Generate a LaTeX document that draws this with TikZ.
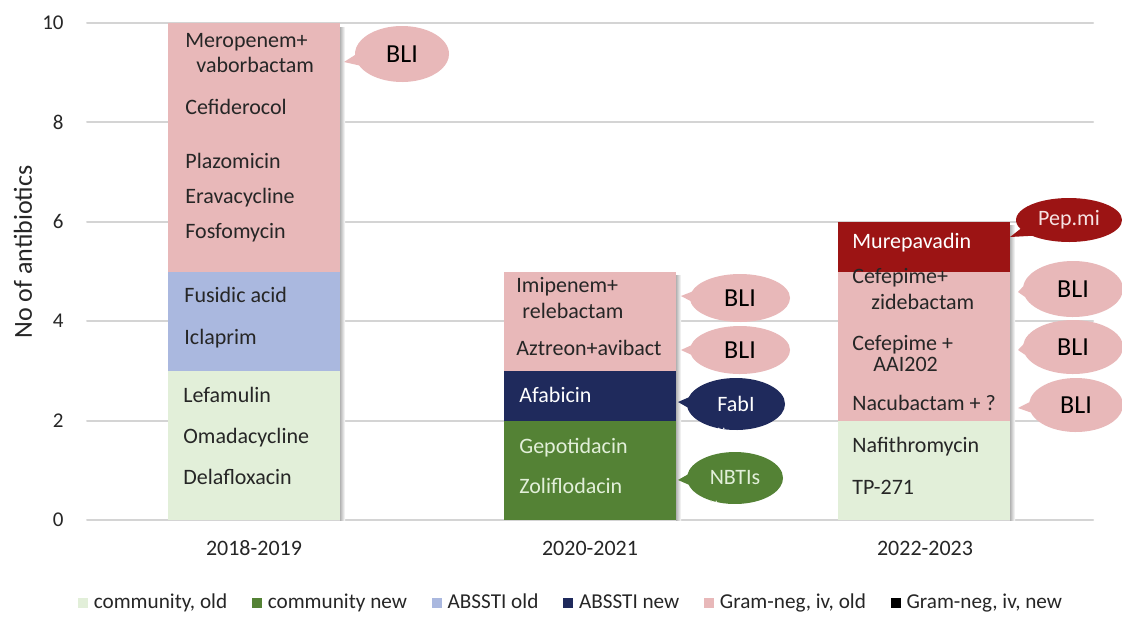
\documentclass[tikz,border=0pt]{standalone}
\usepackage{fontspec}
\setmainfont{Carlito}
\usepackage{tikz}
\usetikzlibrary{positioning,shapes.callouts}
\definecolor{comold}{HTML}{E2EFD9}
\definecolor{comnew}{HTML}{548235}
\definecolor{absold}{HTML}{AAB8DF}
\definecolor{absnew}{HTML}{1F2A5C}
\definecolor{gnold}{HTML}{E8B8B9}
\definecolor{gnnew}{HTML}{9C1414}
\definecolor{gridgray}{HTML}{D4D4D4}
\definecolor{drugtext}{HTML}{262626}
\newcommand{\calldots}{\rlap{\raisebox{-9pt}[0pt][0pt]{\fontsize{6}{6}\selectfont .\,.}}}
\tikzset{
every picture/.style={line cap=round,line join=round},
bar seg/.style={inner sep=0pt, outer sep=0pt, minimum width=86pt},
units/.style={minimum height=#1*24.85pt},
drug/.style={anchor=west, inner sep=0pt, text height=8pt, text depth=2.5pt,
  font=\fontsize{11}{13}\selectfont, text=drugtext},
tick label/.style={anchor=east, inner sep=0pt, font=\fontsize{10.5}{12}\selectfont, text=drugtext},
cat label/.style={inner sep=0pt, font=\fontsize{11}{13}\selectfont, text=drugtext},
grid line/.style={draw=gridgray, line width=1pt},
bar shadow/.style={left color=black!30, right color=white},
call/.style={ellipse callout, inner sep=0pt, outer sep=0pt, callout pointer arc=22,
  font=\fontsize{11}{13}\selectfont},
bli call/.style={call, fill=gnold, text=black, minimum width=50pt, minimum height=26pt,
  font=\fontsize{13}{15}\selectfont},
leg sq/.style={inner sep=0pt, minimum size=5pt},
leg text/.style={inner sep=0pt, text height=7.5pt, text depth=2pt,
  font=\fontsize{10.6}{12}\selectfont, text=drugtext}
}
\begin{document}
\begin{tikzpicture}[x=0.5pt,y=-0.5pt]
\useasboundingbox (0,0) rectangle (1122,616);
\fill[white] (0,0) rectangle (1122,616);
% grid and axis labels
\foreach \v in {0,2,...,10}{
  \draw[grid line] (87,{520-49.7*\v}) -- (1093,{520-49.7*\v});
  \node[tick label] (tick\v) at (64,{520-49.7*\v}) {\v};
}
\node[rotate=90, inner sep=0pt, font=\fontsize{13}{15}\selectfont, text=drugtext] (ytitle) at (23,252) {No of antibiotics};
% bars
\node[bar seg, units=3, fill=comold, anchor=south west] (b1com) at (168,520) {};
\node[bar seg, units=2, fill=absold, above=0pt of b1com] (b1abs) {};
\node[bar seg, units=5, fill=gnold, above=0pt of b1abs] (b1gn) {};
\node[bar seg, units=2, fill=comnew, anchor=south west] (b2com) at (504,520) {};
\node[bar seg, units=1, fill=absnew, above=0pt of b2com] (b2abs) {};
\node[bar seg, units=2, fill=gnold, above=0pt of b2abs] (b2gn) {};
\node[bar seg, units=2, fill=comold, anchor=south west] (b3com) at (838,520) {};
\node[bar seg, units=3, fill=gnold, above=0pt of b3com] (b3gn) {};
\node[bar seg, units=1, fill=gnnew, above=0pt of b3gn] (b3new) {};
\shade[bar shadow] ([yshift=-2pt]b1gn.north east) rectangle ([xshift=2.5pt]b1com.south east);
\shade[bar shadow] ([yshift=-2pt]b2gn.north east) rectangle ([xshift=2.5pt]b2com.south east);
\shade[bar shadow] ([yshift=-2pt]b3new.north east) rectangle ([xshift=2.5pt]b3com.south east);
% drug names
\node[drug] (mero) at (185,42) {Meropenem+};
\node[drug] (vabor) at (196,67) {vaborbactam};
\node[drug] (cefid) at (185,109) {Cefiderocol};
\node[drug] (plazo) at (185,163) {Plazomicin};
\node[drug] (erava) at (185,198) {Eravacycline};
\node[drug] (fosfo) at (185,233) {Fosfomycin};
\node[drug] (fusid) at (184,297) {Fusidic acid};
\node[drug] (iclap) at (184,339) {Iclaprim};
\node[drug] (lefam) at (183,397) {Lefamulin};
\node[drug] (omada) at (183,438) {Omadacycline};
\node[drug] (delaf) at (183,479) {Delafloxacin};
\node[drug] (imipe) at (516,287) {Imipenem+};
\node[drug] (releb) at (522,313) {relebactam};
\node[drug] (aztre) at (516,350) {Aztreon+avibact};
\node[drug, text=white] (afabi) at (519,397) {Afabicin};
\node[drug, text=comold] (gepot) at (519,448) {Gepotidacin};
\node[drug, text=comold] (zolif) at (519,488) {Zoliflodacin};
\node[drug, text=white] (murep) at (852,243) {Murepavadin};
\node[drug] (cefza) at (852,278) {Cefepime+};
\node[drug] (zideb) at (871,304) {zidebactam};
\node[drug] (cefaa) at (852,345) {Cefepime +};
\node[drug] (aai) at (873,366) {AAI202};
\node[drug] (nacub) at (852,405) {Nacubactam + ?};
\node[drug] (nafit) at (852,447) {Nafithromycin};
\node[drug] (tp) at (852,489) {TP-271};
% callouts
\coordinate (p-mero) at (344,62);
\coordinate (p-imi) at (681,296);
\coordinate (p-azt) at (681,350);
\coordinate (p-afa) at (678,402);
\coordinate (p-nbti) at (678,480);
\coordinate (p-mur) at (1010,237);
\coordinate (p-cefz) at (1018,292);
\coordinate (p-cefa) at (1018,350);
\coordinate (p-nac) at (1018,408);
\node[bli call, minimum width=47pt, minimum height=28pt, callout absolute pointer={(p-mero)}] (bli1) at (402,54) {BLI};
\node[bli call, minimum height=24pt, callout absolute pointer={(p-imi)}] (bli2) at (740,298) {BLI};
\node[bli call, minimum height=24pt, callout absolute pointer={(p-azt)}] (bli3) at (740,350) {BLI};
\node[call, fill=absnew, text=white, minimum width=49pt, minimum height=26pt, callout absolute pointer={(p-afa)}] (fabi) at (736,404) {\calldots FabI};
\node[call, fill=comnew, text=comold, minimum width=48pt, minimum height=26pt, callout absolute pointer={(p-nbti)}] (nbti) at (735,478) {\calldots NBTIs};
\node[call, fill=gnnew, text=gnold!40, minimum width=53pt, minimum height=22pt, callout absolute pointer={(p-mur)}] (pepmi) at (1069,220) {Pep.mi};
\node[bli call, minimum height=28pt, callout absolute pointer={(p-cefz)}] (bli4) at (1073,289) {BLI};
\node[bli call, minimum height=27pt, callout absolute pointer={(p-cefa)}] (bli5) at (1073,347) {BLI};
\node[bli call, minimum width=47pt, minimum height=27pt, callout absolute pointer={(p-nac)}] (bli6) at (1076,405) {BLI};
% categories
\node[cat label] (c1) at (254,548) {2018-2019};
\node[cat label] (c2) at (590,548) {2020-2021};
\node[cat label] (c3) at (925,548) {2022-2023};
% legend
\node[leg sq, fill=comold] (lsq1) at (83,603) {};
\node[leg text, right=2.5pt of lsq1] (ltx1) {community, old};
\node[leg sq, fill=comnew, right=12pt of ltx1] (lsq2) {};
\node[leg text, right=2.5pt of lsq2] (ltx2) {community new};
\node[leg sq, fill=absold, right=12pt of ltx2] (lsq3) {};
\node[leg text, right=2.5pt of lsq3] (ltx3) {ABSSTI old};
\node[leg sq, fill=absnew, right=12pt of ltx3] (lsq4) {};
\node[leg text, right=2.5pt of lsq4] (ltx4) {ABSSTI new};
\node[leg sq, fill=gnold, right=12pt of ltx4] (lsq5) {};
\node[leg text, right=2.5pt of lsq5] (ltx5) {Gram-neg, iv, old};
\node[leg sq, fill=black, right=12pt of ltx5] (lsq6) {};
\node[leg text, right=2.5pt of lsq6] (ltx6) {Gram-neg, iv, new};
\end{tikzpicture}
\end{document}
